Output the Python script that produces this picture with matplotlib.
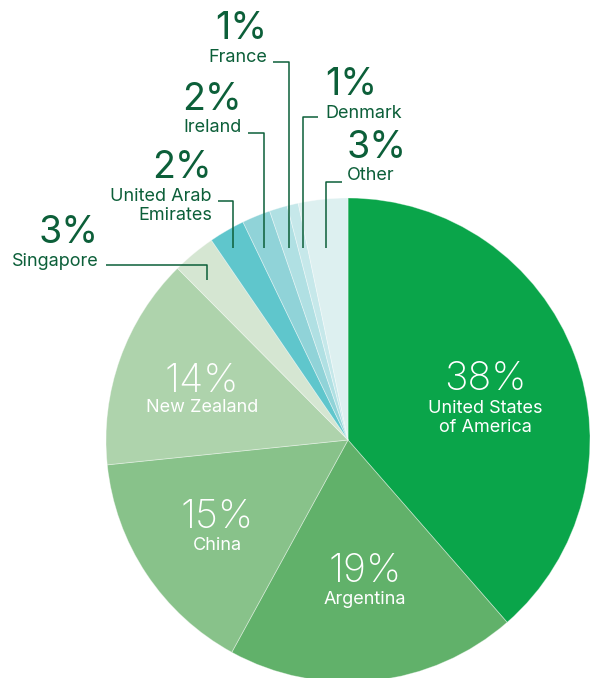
import matplotlib.pyplot as plt

# share by country
countries = ["United States\nof America", "Argentina", "China", "New Zealand",
             "Singapore", "United Arab\nEmirates", "Ireland", "France", "Denmark", "Other"]
shares = [38.6, 19.4, 15.4, 14.2, 2.9, 2.4, 1.9, 1.2, 0.75, 3.3]
pct_labels = ["38%", "19%", "15%", "14%", "3%", "2%", "2%", "1%", "1%", "3%"]
colors = ["#0aa54a", "#61b16a", "#88c28a", "#aed3ac", "#d5e6d2",
          "#5fc6cc", "#90d3d8", "#b0e0e3", "#c6e8ea", "#ddf0f0"]

W, H = 590, 678
dark = "#0c5f39"
plt.rcParams['font.family'] = ['Inter', 'DejaVu Sans']

fig = plt.figure(figsize=(W / 100, H / 100), dpi=100)
ax = fig.add_axes([0, 0, 1, 1])
ax.pie(shares, colors=colors, startangle=90, counterclock=False,
       center=(348, H - 440), radius=242,
       wedgeprops=dict(edgecolor=(1, 1, 1, 0.4), linewidth=0.6))
ax.set_xlim(0, W)
ax.set_ylim(0, H)
ax.set_aspect('equal')
ax.axis('off')

def Y(y):
    return H - y

# labels inside the big slices: (x, pct y, name y)
inner = {0: (485, 380, 418), 1: (365, 571, 599), 2: (217, 517, 545), 3: (202, 382, 408)}
for i, (x, yp, yn) in inner.items():
    ax.text(x, Y(yp), pct_labels[i], color="white", fontsize=28.5, fontweight="light",
            ha="center", va="center")
    ax.text(x, Y(yn), countries[i], color="white", fontsize=13, ha="center", va="center",
            linespacing=1.1)

# outside labels: (anchor x, pct y, name y, ha, leader path)
outer = {
    4: (99, 233, 261, "right", [(106, 265), (207, 265), (207, 280)]),
    5: (212, 168, 206, "right", [(218, 201), (233, 201), (233, 248)]),
    6: (242, 100, 127, "right", [(248, 133), (264, 133), (264, 248)]),
    7: (267, 29, 57, "right", [(273, 62), (289, 62), (289, 248)]),
    8: (325, 85, 113, "left", [(318, 117), (303, 117), (303, 248)]),
    9: (347, 148, 176, "left", [(342, 182), (326, 182), (326, 248)]),
}
for i, (x, yp, yn, ha, path) in outer.items():
    ax.text(x, Y(yp), pct_labels[i], color=dark, fontsize=27, fontweight="normal",
            ha=ha, va="center")
    ax.text(x, Y(yn), countries[i], color=dark, fontsize=13, ha=ha, va="center",
            linespacing=1.1)
    xs = [p[0] for p in path]
    ys = [Y(p[1]) for p in path]
    ax.plot(xs, ys, color=dark, linewidth=1.1, solid_capstyle="butt")

fig.savefig("out.png", dpi=100)
